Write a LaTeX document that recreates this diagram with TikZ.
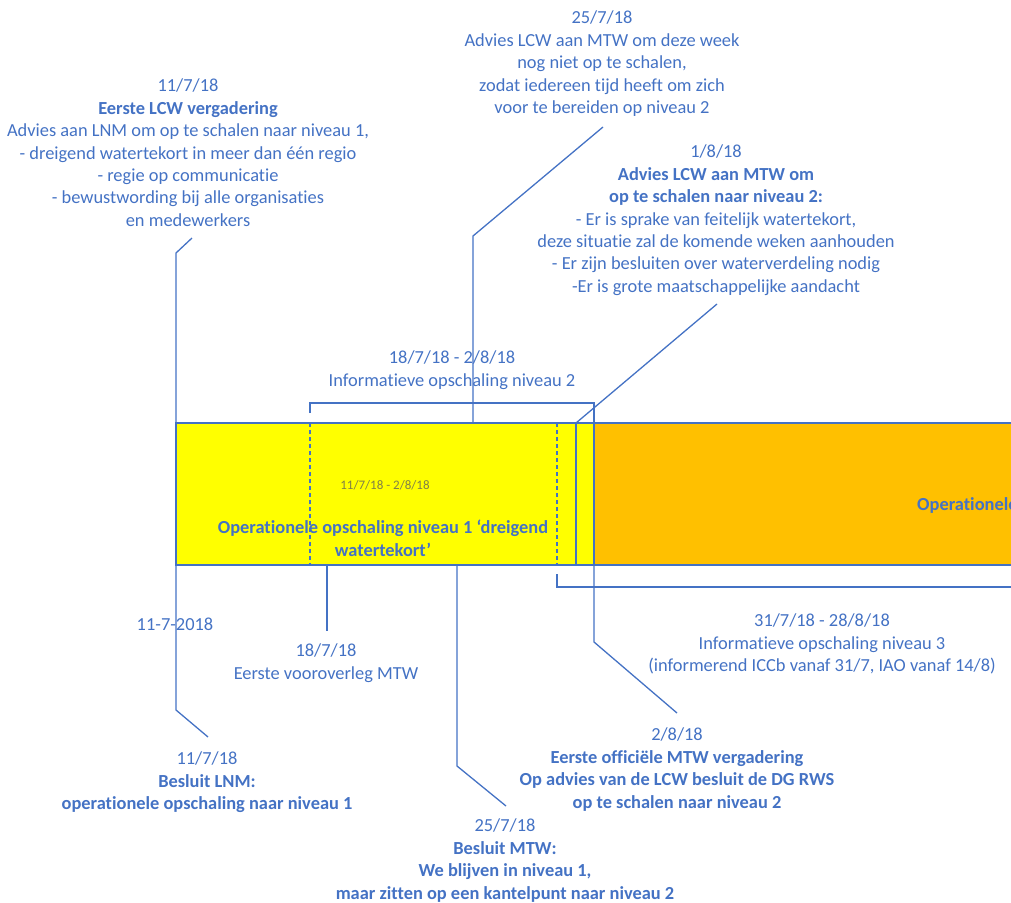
\documentclass[tikz,border=0pt]{standalone}
\usepackage{fontspec}
\setmainfont{Carlito}[Ligatures=NoCommon]
\usetikzlibrary{positioning}

\definecolor{lijnblauw}{RGB}{68,114,196}
\definecolor{niveaugeel}{RGB}{255,255,0}
\definecolor{niveauoranje}{RGB}{255,192,0}
\definecolor{periodetekst}{RGB}{128,128,72}

\tikzset{
  notitie/.style={align=center, text=lijnblauw, inner sep=0pt, anchor=north, yshift=-2pt,
    font=\fontsize{18.4}{22.4}\selectfont},
  vetnotitie/.style={notitie, font=\fontsize{18.4}{22.4}\selectfont\bfseries},
  lijn/.style={draw=lijnblauw, line width=1.3pt},
  streeplijn/.style={lijn, dash pattern=on 4pt off 3pt},
}

\begin{document}
\begin{tikzpicture}[x=1pt,y=-1pt]
  \useasboundingbox (0,0) rectangle (1011,902);
  \clip (0,0) rectangle (1011,902);

  % Balk
  \coordinate (barNW) at (176,423);
  \coordinate (barSW) at (176,565);
  \fill[niveaugeel] (barNW) rectangle (594,565);
  \fill[niveauoranje] (594,423) rectangle (1020,565);
  \draw[lijn] (1020,423) -- (barNW) -- (barSW) -- (1020,565);
  \draw[lijn] (576,423) -- (576,565);
  \draw[lijn] (594,423) -- (594,565);
  \draw[streeplijn] (310,423) -- (310,565);
  \draw[streeplijn] (557,423) -- (557,565);

  % Periodes
  \draw[lijn] (310,413) -- (310,403) -- (594,403) -- (594,423);
  \draw[lijn] (557,574) -- (557,587) -- (1020,587);

  % Teksten boven
  \node[notitie] (lcwvergadering) at (188,77) {11/7/18\\\textbf{Eerste LCW vergadering}\\Advies aan LNM om op te schalen naar niveau 1,\\- dreigend watertekort in meer dan één regio\\- regie op communicatie\\- bewustwording bij alle organisaties\\en medewerkers};
  \node[notitie] (advieswacht) at (602,9) {25/7/18\\Advies LCW aan MTW om deze week\\nog niet op te schalen,\\zodat iedereen tijd heeft om zich\\voor te bereiden op niveau 2};
  \node[notitie] (adviesniveau2) at (716,143) {1/8/18\\\textbf{Advies LCW aan MTW om}\\\textbf{op te schalen naar niveau 2:}\\- Er is sprake van feitelijk watertekort,\\deze situatie zal de komende weken aanhouden\\- Er zijn besluiten over waterverdeling nodig\\-Er is grote maatschappelijke aandacht};
  \node[notitie] (info2) at (452,349) {18/7/18 - 2/8/18\\Informatieve opschaling niveau 2};

  % Teksten in de balk
  \node[notitie, anchor=center, text=periodetekst, font=\fontsize{13}{15}\selectfont] (periode1) at (385,483) {11/7/18 - 2/8/18};
  \node[vetnotitie] (niveau1) at (383,518) {Operationele opschaling niveau 1 ‘dreigend\\watertekort’};
  \node[vetnotitie, anchor=west] (niveau2) at (917,503) {Operationele};

  % Teksten onder
  \node[notitie, anchor=center] (startdatum) at (175,622) {11-7-2018};
  \node[notitie] (vooroverleg) at (326,642) {18/7/18\\Eerste vooroverleg MTW};
  \node[notitie] (info3) at (822,612) {31/7/18 - 28/8/18\\Informatieve opschaling niveau 3\\(informerend ICCb vanaf 31/7, IAO vanaf 14/8)};
  \node[notitie] (besluitlnm) at (207,750) {11/7/18\\\textbf{Besluit LNM:}\\\textbf{operationele opschaling naar niveau 1}};
  \node[notitie] (vergadering) at (677,726) {2/8/18\\\textbf{Eerste officiële MTW vergadering}\\\textbf{Op advies van de LCW besluit de DG RWS}\\\textbf{op te schalen naar niveau 2}};
  \node[notitie] (besluitmtw) at (505,817) {25/7/18\\\textbf{Besluit MTW:}\\\textbf{We blijven in niveau 1,}\\\textbf{maar zitten op een kantelpunt naar niveau 2}};

  % Verbindingen boven
  \coordinate (eindlcw) at (192,238);
  \coordinate (eindwacht) at (603,127);
  \coordinate (bar25) at (473,423);
  \coordinate (eindniveau2) at (717,304);
  \coordinate (bar01) at (576,423);
  \draw[lijn] (eindlcw) -- (176,253) -- (barNW);
  \draw[lijn] (eindwacht) -- (473,236) -- (bar25);
  \draw[lijn] (eindniveau2) -- (bar01);

  % Verbindingen onder
  \coordinate (eindlnm) at (208,737);
  \coordinate (bar18) at (327,565);
  \coordinate (eind18) at (327,631);
  \coordinate (bar25o) at (457,565);
  \coordinate (eindmtw) at (506,806);
  \coordinate (bar02) at (594,565);
  \coordinate (eind02) at (677,713);
  \draw[lijn] (barSW) -- (176,710) -- (eindlnm);
  \draw[lijn] (bar18) -- (eind18);
  \draw[lijn] (bar25o) -- (457,766) -- (eindmtw);
  \draw[lijn] (bar02) -- (594,642) -- (eind02);
\end{tikzpicture}
\end{document}
